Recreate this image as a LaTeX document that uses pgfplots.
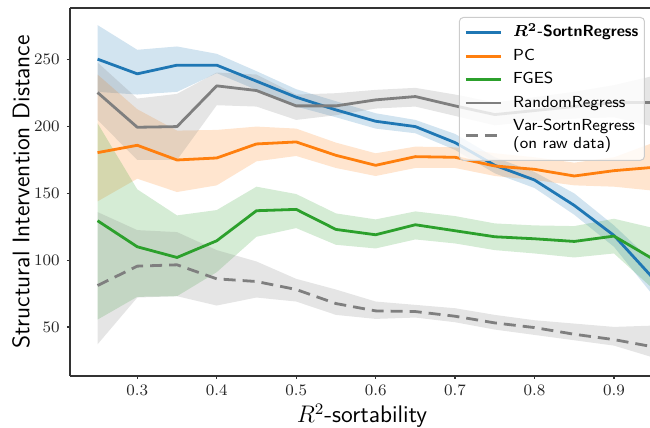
\documentclass[border=0pt]{standalone}
\usepackage{pgfplots}
\usepackage{pgfplotstable}
\usepackage{bm}
\pgfplotsset{compat=1.18}
\usepgfplotslibrary{fillbetween}
\definecolor{cB}{HTML}{1F77B4}
\definecolor{cO}{HTML}{FF7F0E}
\definecolor{cG}{HTML}{2CA02C}
\definecolor{cR}{HTML}{7F7F7F}

\pgfplotstableread{
x m lo hi
0.25 250.5 226 276
0.30 239.5 224 257.5
0.35 246 226 260
0.40 246 240 254.5
0.45 234 227.5 241.5
0.50 222 215 228
0.55 212.5 207 219
0.60 204 198.5 210
0.65 200 195 205
0.70 188 182.5 194.5
0.75 171 165 177
0.80 160 154 166
0.85 141 134 150
0.90 118.5 110 126
0.95 86 73 98
}\tabB
\pgfplotstableread{
x m lo hi
0.25 180.5 144 239
0.30 186 161 213
0.35 175 151 197
0.40 176.5 156 197.5
0.45 187 174 200
0.50 188.5 178 198.5
0.55 178.5 169 188
0.60 171 163 180
0.65 177.5 169 185
0.70 177 169 184.5
0.75 170.5 163 180
0.80 168 160 177
0.85 163 156 173
0.90 167 155 177
0.95 169.5 152 188
}\tabO
\pgfplotstableread{
x m lo hi
0.25 129.5 55.5 202.5
0.30 110 72.5 153
0.35 102 73 133.5
0.40 114.5 91 137.5
0.45 137 117.5 155
0.50 138 124 149.5
0.55 123 111.5 135
0.60 119 108.75 130.5
0.65 126.5 115.5 136.5
0.70 122 112.5 133
0.75 117.5 107.5 127.5
0.80 116 105 126
0.85 114 102 125.5
0.90 118 105 131
0.95 100.5 78 124
}\tabG
\pgfplotstableread{
x m lo hi
0.25 225.5 205 248
0.30 199.5 175 221
0.35 200 175 224.5
0.40 230.5 216 240.5
0.45 227 215 239
0.50 215.5 205 224
0.55 215.5 208.5 225
0.60 220 213.5 227.5
0.65 222.5 215 229
0.70 215.5 208 224
0.75 209 201 218
0.80 212 204 222
0.85 215 206 226
0.90 218 207 231
0.95 218 200 238
}\tabR
\pgfplotstableread{
x m lo hi
0.25 81 37 136
0.30 95.5 72 122.5
0.35 96.5 73 121
0.40 86 66 107.5
0.45 84 72 99
0.50 78 69 86
0.55 67.5 59 78
0.60 62 56 69
0.65 61.5 57 66.5
0.70 58 53.5 64
0.75 53 48 59
0.80 49.5 44 55
0.85 44.5 40 52.5
0.90 40.5 36 50
0.95 35 27 51
}\tabV

\begin{document}
\begin{tikzpicture}
\begin{axis}[
  name=ax, at={(0,0)}, anchor=south west,
  scale only axis, width=290pt, height=184pt,
  xmin=0.2153, xmax=0.9453, ymin=13.25, ymax=288.8,
  axis x line*=box, axis y line*=left,
  axis line style={-, black!80, line width=0.6pt},
  xtick={0.3,0.4,0.5,0.6,0.7,0.8,0.9},
  ytick={50,100,150,200,250},
  xtick pos=bottom, ytick pos=left,
  xticklabel pos=bottom, yticklabel pos=left,
  tick align=outside, major tick length=1.5pt,
  tick style={black!80, line width=0.6pt},
  ticklabel style={font=\fontsize{8.2}{10}\selectfont, black!85},
  xticklabel style={inner sep=0pt, anchor=north, yshift=-3pt},
  yticklabel style={inner sep=0pt, anchor=east, xshift=-3.5pt},
  every axis y label/.style={at={(rel axis cs:0,0.5)}, xshift=-20.25pt, rotate=90, anchor=base,
     font=\fontsize{12}{14}\selectfont\sffamily},
  every axis x label/.style={at={(rel axis cs:0.5,0)}, anchor=base, yshift=-23.5pt, xshift=1pt,
     font=\fontsize{12}{14}\selectfont\sffamily},
  ylabel={Structural Intervention Distance},
  xlabel={$R^2$-sortability},
  legend cell align=left,
  legend image code/.code={\draw[#1] (0pt,0pt) -- (17.5pt,0pt);},
  legend style={at={(1,1)}, anchor=north east, xshift=-2.5pt, yshift=-4.5pt,
     draw=black!20, line width=0.5pt, rounded corners=2pt, fill=white, fill opacity=0.8, text opacity=1,
     inner xsep=2.5pt, inner ysep=3.2pt, row sep=2.7pt, column sep=5pt,
     font=\fontsize{8}{9.2}\selectfont\sffamily,
     nodes={inner sep=0.5pt, text height=6pt, text depth=2pt, align=left}},
]
% bands
\addplot[name path=Bhi, draw=none, forget plot] table[x=x,y=hi]{\tabB};
\addplot[name path=Blo, draw=none, forget plot] table[x=x,y=lo]{\tabB};
\addplot[fill=cB, fill opacity=0.2, draw=none, forget plot] fill between[of=Bhi and Blo];
\addplot[name path=Ohi, draw=none, forget plot] table[x=x,y=hi]{\tabO};
\addplot[name path=Olo, draw=none, forget plot] table[x=x,y=lo]{\tabO};
\addplot[fill=cO, fill opacity=0.2, draw=none, forget plot] fill between[of=Ohi and Olo];
\addplot[name path=Ghi, draw=none, forget plot] table[x=x,y=hi]{\tabG};
\addplot[name path=Glo, draw=none, forget plot] table[x=x,y=lo]{\tabG};
\addplot[fill=cG, fill opacity=0.2, draw=none, forget plot] fill between[of=Ghi and Glo];
\addplot[name path=Rhi, draw=none, forget plot] table[x=x,y=hi]{\tabR};
\addplot[name path=Rlo, draw=none, forget plot] table[x=x,y=lo]{\tabR};
\addplot[fill=cR, fill opacity=0.2, draw=none, forget plot] fill between[of=Rhi and Rlo];
\addplot[name path=Vhi, draw=none, forget plot] table[x=x,y=hi]{\tabV};
\addplot[name path=Vlo, draw=none, forget plot] table[x=x,y=lo]{\tabV};
\addplot[fill=cR, fill opacity=0.2, draw=none, forget plot] fill between[of=Vhi and Vlo];
% lines
\addplot[cB, line width=1.4pt, line join=round, mark=none] table[x=x,y=m]{\tabB};
\addlegendentry{$\bm{R^2}$\textbf{-SortnRegress}}
\addplot[cO, line width=1.4pt, line join=round, mark=none] table[x=x,y=m]{\tabO};
\addlegendentry{PC}
\addplot[cG, line width=1.4pt, line join=round, mark=none] table[x=x,y=m]{\tabG};
\addlegendentry{FGES}
\addplot[cR, line width=1.4pt, line join=round, mark=none] table[x=x,y=m]{\tabR};
\addlegendentry{RandomRegress}
\addplot[cR, line width=1.4pt, dash pattern=on 6pt off 3.5pt, mark=none] table[x=x,y=m]{\tabV};
\addlegendentry[text height=15.2pt, text depth=2pt]{Var-SortnRegress\\(on raw data)}
\end{axis}
\pgfresetboundingbox
\path[use as bounding box] (-35pt,-26pt) rectangle (290pt,188pt);
\end{tikzpicture}
\end{document}
